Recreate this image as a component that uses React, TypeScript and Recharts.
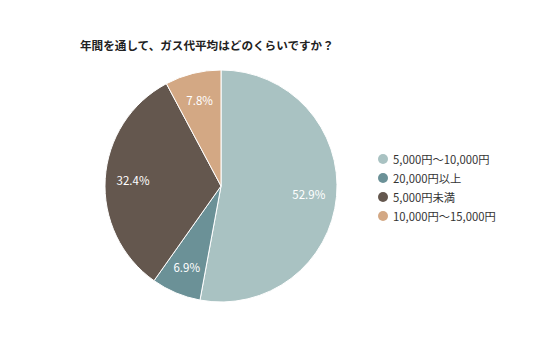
import React from "react";
import { PieChart, Pie, Cell } from "recharts";

const categories = ["5,000円～10,000円", "20,000円以上", "5,000円未満", "10,000円～15,000円"];
const values = [52.9, 6.9, 32.4, 7.8];
const colors = ["#a9c2c2", "#6b9197", "#64574e", "#d3a884"];
const title = "年間を通して、ガス代平均はどのくらいですか？";

const data = categories.map((name, i) => ({ name, value: values[i] }));
const FONT = "'Noto Sans CJK JP', 'Noto Sans', sans-serif";

const RAD = Math.PI / 180;
const renderLabel = (props: any) => {
  const { cx, cy, midAngle, outerRadius, value } = props;
  const r = outerRadius * 0.76;
  const x = cx + r * Math.cos(-midAngle * RAD);
  const y = cy + r * Math.sin(-midAngle * RAD);
  return (
    <text x={x} y={y} fill="#ffffff" fontSize={11.5} fontFamily={FONT} textAnchor="middle" dominantBaseline="central">
      {value.toFixed(1)}%
    </text>
  );
};

export default function App() {
  return (
    <div style={{ position: "relative", width: 520, height: 341 }}>
      <div
        style={{
          position: "absolute",
          left: 72,
          top: 29,
          fontFamily: FONT,
          fontSize: 11.6,
          fontWeight: "bold",
          color: "#222",
          whiteSpace: "nowrap",
        }}
      >
        {title}
      </div>
      <PieChart width={520} height={341} margin={{ top: 0, left: 0, right: 0, bottom: 0 }}>
        <Pie
          data={data}
          dataKey="value"
          nameKey="name"
          cx={213}
          cy={178}
          outerRadius={116}
          startAngle={90}
          endAngle={-270}
          stroke="#ffffff"
          strokeWidth={1}
          label={renderLabel}
          labelLine={false}
          isAnimationActive={false}
        >
          {data.map((d, i) => (
            <Cell key={d.name} fill={colors[i]} />
          ))}
        </Pie>
      </PieChart>
      <ul
        style={{
          position: "absolute",
          left: 370,
          top: 141,
          listStyle: "none",
          margin: 0,
          padding: 0,
          fontFamily: FONT,
          fontSize: 11.3,
          color: "#333",
        }}
      >
        {categories.map((c, i) => (
          <li key={c} style={{ height: 19, display: "flex", alignItems: "center", whiteSpace: "nowrap" }}>
            <svg width={10} height={10} style={{ marginRight: 5 }}>
              <circle cx={5} cy={5} r={5} fill={colors[i]} />
            </svg>
            <span>{c}</span>
          </li>
        ))}
      </ul>
    </div>
  );
}
